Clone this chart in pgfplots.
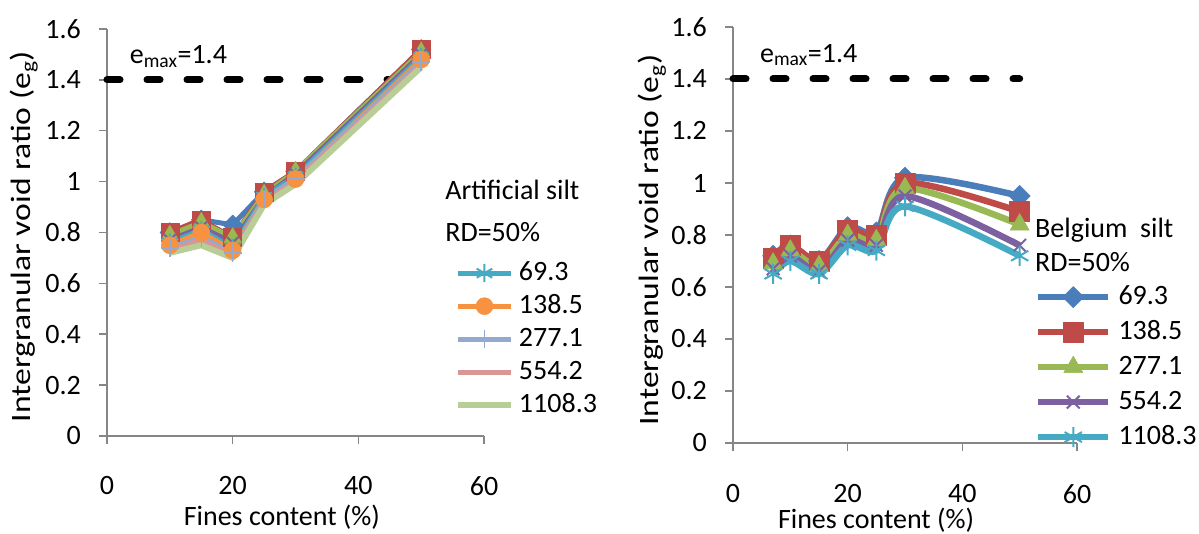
\documentclass[border=0pt]{standalone}
\usepackage{fontspec}
\setmainfont{Carlito}
\usepackage{graphicx}
\usepackage{pgfplots}
\pgfplotsset{compat=1.18}

\definecolor{cBlue}{HTML}{4A7EBB}
\definecolor{cRed}{HTML}{BE4B48}
\definecolor{cGreen}{HTML}{98B954}
\definecolor{cPurple}{HTML}{7D60A0}
\definecolor{cTeal}{HTML}{46AAC5}
\definecolor{cOrange}{HTML}{F69240}
\definecolor{cLBlue}{HTML}{93A9CF}
\definecolor{cPink}{HTML}{D99694}
\definecolor{cLGreen}{HTML}{B9CD96}
\definecolor{axgray}{HTML}{868686}

\newcommand{\bigfont}{\fontsize{28}{33}\selectfont}

\pgfplotsset{
  excelaxis/.style={
    scale only axis, clip=false,
    xmin=0, xmax=60, ymin=0, ymax=1.6,
    xtick={0,20,40,60}, ytick={0,0.2,0.4,0.6,0.8,1,1.2,1.4,1.6},
    axis x line*=bottom, axis y line*=left,
    axis line style={axgray, line width=1.5pt, -},
    tick style={axgray, line width=1.5pt},
    tick align=outside, major tick length=8pt,
    font=\bigfont, tick label style={font=\bigfont},
    /pgf/number format/assume math mode=true,
    yticklabel style={inner sep=0pt, xshift=-18pt},
    xlabel={Fines content (\%)},
    ylabel={\scalebox{1.2}[1]{Intergranular void ratio (e\textsubscript{g})}},
    legend cell align=left,
    line join=round,
  },
}

\begin{document}
\begin{tikzpicture}
\path (0,0) rectangle (1199pt,533pt);

% ---------------- Left: Artificial silt ----------------
\begin{axis}[excelaxis,
  at={(107pt,97pt)}, anchor=south west,
  width=377pt, height=407pt,
  xticklabel style={inner sep=0pt, yshift=-32pt},
  xlabel style={at={(axis description cs:0.464,-0.199)}, anchor=center},
  ylabel style={at={(axis description cs:-0.22,0.49)}, anchor=center},
  legend style={at={(axis description cs:0.923,0.432)}, anchor=north west,
    draw=none, fill=none, inner sep=0pt, outer sep=0pt,
    row sep=7pt, column sep=5pt, font=\bigfont,
    nodes={inner sep=0pt, text height=20pt, text depth=6pt}},
  legend image code/.code={\draw[mark repeat=2,mark phase=2] plot coordinates {(0pt,0pt)(26.5pt,0pt)(53pt,0pt)};},
]
\addplot[black, line width=7pt, dash pattern=on 13pt off 27pt, line cap=round, forget plot]
  coordinates {(0,1.4) (47.7,1.4)};

\addplot[cBlue, line width=5pt, mark=square*, mark size=7pt, mark options={rotate=45, fill=cBlue, line width=0.5pt}, forget plot]
  coordinates {(10,0.80) (15,0.85) (20,0.83) (25,0.96) (30,1.04) (50,1.52)};
\addplot[cRed, line width=5pt, mark=square*, mark size=9pt, mark options={fill=cRed, line width=0.5pt}, forget plot]
  coordinates {(10,0.80) (15,0.85) (20,0.78) (25,0.96) (30,1.04) (50,1.52)};
\addplot[cGreen, line width=5pt, mark=triangle*, mark size=10pt, mark options={fill=cGreen, line width=0.5pt}, forget plot]
  coordinates {(10,0.79) (15,0.84) (20,0.78) (25,0.95) (30,1.04) (50,1.51)};
\addplot[cPurple, line width=5pt, mark=x, mark size=8pt, mark options={line width=2pt}, forget plot]
  coordinates {(10,0.77) (15,0.82) (20,0.76) (25,0.94) (30,1.03) (50,1.50)};

\addplot[cTeal, line width=5pt, mark=asterisk, mark size=9pt, mark options={line width=2pt}]
  coordinates {(10,0.76) (15,0.81) (20,0.74) (25,0.94) (30,1.02) (50,1.49)};
\addlegendentry{69.3}
\addplot[cOrange, line width=5pt, mark=*, mark size=8.5pt, mark options={fill=cOrange, line width=0.5pt}]
  coordinates {(10,0.75) (15,0.80) (20,0.73) (25,0.93) (30,1.01) (50,1.48)};
\addlegendentry{138.5}
\addplot[cLBlue, line width=5pt, mark=+, mark size=9pt, mark options={line width=1.5pt}]
  coordinates {(10,0.74) (15,0.78) (20,0.72) (25,0.93) (30,1.01) (50,1.47)};
\addlegendentry{277.1}
\addplot[cPink, line width=5pt, no markers]
  coordinates {(10,0.73) (15,0.77) (20,0.71) (25,0.92) (30,1.00) (50,1.46)};
\addlegendentry{554.2}
\addplot[cLGreen, line width=6pt, no markers]
  coordinates {(10,0.72) (15,0.75) (20,0.70) (25,0.91) (30,0.99) (50,1.45)};
\addlegendentry{1108.3}

\node[anchor=base west, inner sep=0pt] at (axis cs:3.6,1.465) {e\textsubscript{max}=1.4};
\node[anchor=west, inner sep=0pt] at (axis description cs:0.897,0.604) {Artificial silt};
\node[anchor=west, inner sep=0pt] at (axis description cs:0.897,0.501) {RD=50\%};
\end{axis}

% ---------------- Right: Belgium silt ----------------
\begin{axis}[excelaxis,
  at={(733pt,90pt)}, anchor=south west,
  width=344pt, height=416pt,
  xticklabel style={inner sep=0pt, yshift=-33pt},
  xlabel style={at={(axis description cs:0.416,-0.185)}, anchor=center},
  ylabel style={at={(axis description cs:-0.235,0.488)}, anchor=center},
  legend style={at={(axis description cs:0.878,0.382)}, anchor=north west,
    draw=none, fill=none, inner sep=0pt, outer sep=0pt,
    row sep=9pt, column sep=7pt, font=\bigfont,
    nodes={inner sep=0pt, text height=20pt, text depth=6pt}},
  legend image code/.code={\draw[mark repeat=2,mark phase=2] plot coordinates {(0pt,0pt)(35pt,0pt)(70pt,0pt)};},
]
\addplot[black, line width=7pt, dash pattern=on 13pt off 27pt, line cap=round, forget plot]
  coordinates {(0,1.4) (50,1.4)};

\node[anchor=west, inner sep=0pt] at (axis description cs:0.878,0.512) {Belgium~~silt};
\node[anchor=west, inner sep=0pt] at (axis description cs:0.878,0.435) {RD=50\%};

\addplot[cBlue, line width=6.5pt, smooth, tension=0.5, mark=square*, mark size=7.5pt, mark options={rotate=45, fill=cBlue, line width=0.5pt}]
  coordinates {(7,0.72) (10,0.76) (15,0.70) (20,0.83) (25,0.81) (30,1.02) (50,0.95)};
\addlegendentry{69.3}
\addplot[cRed, line width=6.5pt, smooth, tension=0.5, mark=square*, mark size=10pt, mark options={fill=cRed, line width=0.5pt}]
  coordinates {(7,0.71) (10,0.76) (15,0.70) (20,0.82) (25,0.80) (30,1.00) (50,0.89)};
\addlegendentry{138.5}
\addplot[cGreen, line width=6.5pt, smooth, tension=0.5, mark=triangle*, mark size=11pt, mark options={fill=cGreen, line width=0.5pt}]
  coordinates {(7,0.69) (10,0.74) (15,0.68) (20,0.80) (25,0.78) (30,0.98) (50,0.84)};
\addlegendentry{277.1}
\addplot[cPurple, line width=6.5pt, smooth, tension=0.5, mark=x, mark size=9pt, mark options={line width=2pt}]
  coordinates {(7,0.67) (10,0.72) (15,0.66) (20,0.78) (25,0.76) (30,0.95) (50,0.76)};
\addlegendentry{554.2}
\addplot[cTeal, line width=6.5pt, smooth, tension=0.5, mark=asterisk, mark size=10pt, mark options={line width=2pt}]
  coordinates {(7,0.65) (10,0.70) (15,0.65) (20,0.76) (25,0.74) (30,0.91) (50,0.72)};
\addlegendentry{1108.3}

\node[anchor=base west, inner sep=0pt] at (axis cs:4.7,1.465) {e\textsubscript{max}=1.4};
\end{axis}

\pgfresetboundingbox
\path (0,0) rectangle (1199pt,533pt);
\end{tikzpicture}
\end{document}
